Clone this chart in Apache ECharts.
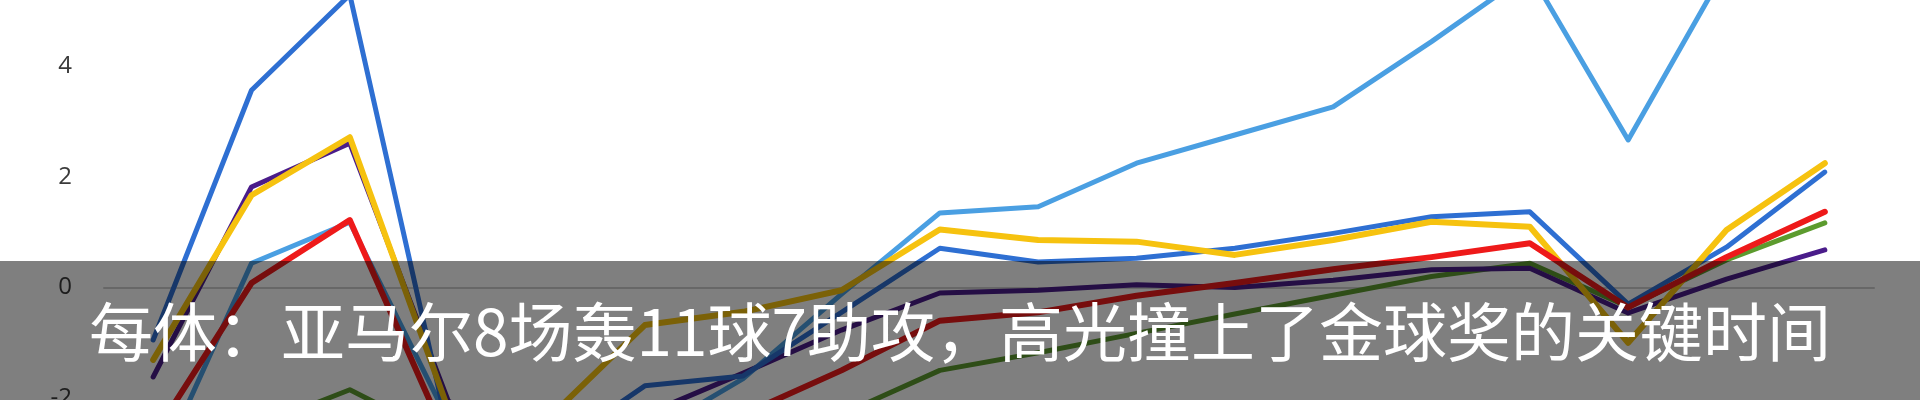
<!DOCTYPE html>
<html>
<head>
<meta charset="utf-8">
<script src="https://cdn.jsdelivr.net/npm/echarts/dist/echarts.min.js"></script>
<style>
html,body{margin:0;padding:0;background:#fff;width:1920px;height:400px;overflow:hidden;position:relative;}
#chart{position:absolute;left:0;top:-200px;width:1920px;height:800px;}
</style>
</head>
<body>
<div id="chart"></div>
<script>
var categories = ['1','2','3','4','5','6','7','8','9','10','11','12','13','14','15','16','17','18'];
var lightBlue = [-3.5, 0.44, 1.18, -2.4, -3.3, -2.7, -1.65, -0.12, 1.35, 1.46, 2.25, 2.76, 3.27, 4.45, 5.7, 2.67, 5.8, 6.5];
var darkBlue  = [-0.95, 3.57, 5.3, -2.6, -3.0, -1.78, -1.6, -0.45, 0.71, 0.46, 0.53, 0.71, 0.98, 1.28, 1.37, -0.3, 0.73, 2.09];
var yellow    = [-1.31, 1.67, 2.72, -2.2, -2.4, -0.68, -0.44, -0.05, 1.05, 0.86, 0.83, 0.59, 0.86, 1.19, 1.10, -1.0, 1.04, 2.25];
var purple    = [-1.62, 1.82, 2.61, -2.05, -3.2, -2.3, -1.55, -0.77, -0.1, -0.05, 0.05, 0.0, 0.13, 0.32, 0.35, -0.46, 0.15, 0.68];
var red       = [-2.7, 0.08, 1.22, -2.8, -3.5, -2.9, -2.3, -1.5, -0.6, -0.45, -0.15, 0.08, 0.33, 0.55, 0.80, -0.36, 0.55, 1.37];
var green     = [-3.2, -2.55, -1.85, -2.75, -3.8, -3.4, -2.9, -2.3, -1.5, -1.18, -0.83, -0.48, -0.14, 0.2, 0.44, -0.35, 0.5, 1.17];
var yTicks = {min: -4, max: 8, interval: 2};
var caption = '每体：亚马尔8场轰11球7助攻，高光撞上了金球奖的关键时间';

// the chart canvas is 800px tall and shifted up 200px, so only its middle band is seen
var OFF = 200;

function line(name, data, color, width) {
  return {
    name: name, type: 'line', data: data, symbol: 'none', smooth: false,
    lineStyle: {color: color, width: width, cap: 'round', join: 'round'},
    emphasis: {disabled: true}
  };
}

var chart = echarts.init(document.getElementById('chart'), null, {renderer: 'canvas'});
chart.setOption({
  backgroundColor: '#ffffff',
  animation: false,
  grid: {left: 104, right: 46, top: OFF - 154.5, bottom: 800 - (OFF + 508.5), containLabel: false},
  xAxis: {
    type: 'category', data: categories, boundaryGap: true,
    axisLine: {show: true, onZero: true, lineStyle: {color: '#cfcfcf', width: 2}},
    axisTick: {show: false}, axisLabel: {show: false}, splitLine: {show: false}
  },
  yAxis: {
    type: 'value', min: yTicks.min, max: yTicks.max, interval: yTicks.interval,
    axisLine: {show: false}, axisTick: {show: false}, splitLine: {show: false},
    axisLabel: {color: '#3a3a3a', fontSize: 24, fontFamily: 'Open Sans', margin: 32}
  },
  series: [
    line('green', green, '#5c9b2e', 5),
    line('purple', purple, '#4a1c8a', 5),
    line('lightBlue', lightBlue, '#4a9fe2', 5),
    line('darkBlue', darkBlue, '#2e6fd2', 5),
    line('yellow', yellow, '#f6c20f', 6),
    line('red', red, '#ee1a1a', 6)
  ],
  graphic: [
    {type: 'rect', z: 100, shape: {x: 0, y: OFF + 261, width: 1920, height: 139},
     style: {fill: 'rgba(0,0,0,0.5)'}},
    {type: 'text', z: 101, x: 960, y: OFF + 332,
     style: {text: caption, fill: '#ffffff', font: '64px "Noto Sans CJK SC"',
             align: 'center', verticalAlign: 'middle', textAlign: 'center', textVerticalAlign: 'middle'}}
  ]
});
</script>
</body>
</html>
